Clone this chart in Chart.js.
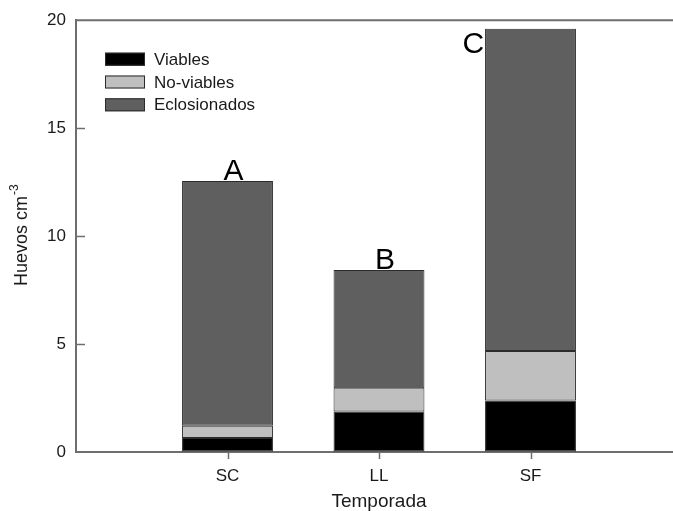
<!DOCTYPE html>
<html>
<head>
<meta charset="utf-8">
<script src="https://cdn.jsdelivr.net/npm/chart.js@4.4.1/dist/chart.umd.min.js"></script>
<style>
  html, body { margin: 0; padding: 0; background: #fff; overflow: hidden; }
  #wrap { width: 690px; height: 511px; }
</style>
</head>
<body>
<div id="wrap"><canvas id="eggChart" width="690" height="511"></canvas></div>
<script>
// data (segment heights, stacked)
const categories = ['SC', 'LL', 'SF'];
const viables = [0.65, 1.88, 2.38];
const noViables = [0.57, 1.07, 2.30];
const eclosionados = [11.33, 5.48, 14.92];
const letters = ['A', 'B', 'C'];
const yTicks = [0, 5, 10, 15, 20];

const seriesNames = ['Viables', 'No-viables', 'Eclosionados'];
const seriesColors = ['#000000', '#bfbfbf', '#5f5f5f'];

const textColor = '#1a1a1a';
const axisColor = '#6e6e6e';

// blank slots at both ends so the bars sit at 1, 2, 3 on a 0..4 axis
const labels = [''].concat(categories, ['']);
function pad(arr) { return [null].concat(arr, [null]); }

const seriesData = [viables, noViables, eclosionados];

const datasets = seriesData.map((vals, i) => ({
  label: seriesNames[i],
  data: pad(vals),
  backgroundColor: seriesColors[i],
  borderColor: '#2b2b2b',
  borderWidth: 1,
  borderSkipped: false,
  barPercentage: 0.6,
  categoryPercentage: 1.0
}));

// top frame line, inward ticks on y, outward ticks on x
const framePlugin = {
  id: 'frame',
  afterDraw(chart) {
    const ctx = chart.ctx;
    const area = chart.chartArea;
    const y = chart.scales.y;
    const x = chart.scales.x;
    ctx.save();
    ctx.strokeStyle = axisColor;
    ctx.lineWidth = 2;
    ctx.beginPath();
    ctx.moveTo(area.left - 1, area.top);
    ctx.lineTo(chart.width, area.top);
    ctx.stroke();
    ctx.lineWidth = 1.5;
    yTicks.forEach(v => {
      if (v === 0 || v === 20) return;
      const py = Math.round(y.getPixelForValue(v)) + 0.5;
      ctx.beginPath();
      ctx.moveTo(area.left, py);
      ctx.lineTo(area.left + 9, py);
      ctx.stroke();
    });
    categories.forEach((c, i) => {
      const px = Math.round(x.getPixelForValue(i + 1)) + 0.5;
      ctx.beginPath();
      ctx.moveTo(px, area.bottom + 1);
      ctx.lineTo(px, area.bottom + 7);
      ctx.stroke();
    });
    ctx.restore();
  }
};

// legend inside the plot, top-left
const legendPlugin = {
  id: 'innerLegend',
  afterDraw(chart) {
    const ctx = chart.ctx;
    const area = chart.chartArea;
    ctx.save();
    ctx.font = '17px "Liberation Sans", Arial, sans-serif';
    ctx.textBaseline = 'middle';
    ctx.textAlign = 'left';
    chart.data.datasets.forEach((ds, i) => {
      const cy = area.top + 39 + i * 22.8;
      const bx = area.left + 29;
      ctx.fillStyle = ds.backgroundColor;
      ctx.fillRect(bx, cy - 6.5, 40, 13);
      ctx.strokeStyle = '#2b2b2b';
      ctx.lineWidth = 1;
      ctx.strokeRect(bx + 0.5, cy - 6.5 + 0.5, 39, 12);
      ctx.fillStyle = textColor;
      ctx.fillText(ds.label, bx + 49, cy + 1);
    });
    ctx.restore();
  }
};

// significance letters above / beside each bar
const lettersPlugin = {
  id: 'letters',
  afterDraw(chart) {
    const ctx = chart.ctx;
    const area = chart.chartArea;
    const yScale = chart.scales.y;
    const topMeta = chart.getDatasetMeta(chart.data.datasets.length - 1);
    ctx.save();
    ctx.font = '30px "Liberation Sans", Arial, sans-serif';
    ctx.fillStyle = '#000';
    ctx.textBaseline = 'alphabetic';
    categories.forEach((c, i) => {
      const total = viables[i] + noViables[i] + eclosionados[i];
      const bar = topMeta.data[i + 1];
      const py = yScale.getPixelForValue(total);
      if (py - 30 < area.top) {
        ctx.textAlign = 'right';
        ctx.fillText(letters[i], bar.x - bar.width / 2 - 1, py + 24);
      } else {
        ctx.textAlign = 'center';
        ctx.fillText(letters[i], bar.x + 6, py - 1);
      }
    });
    ctx.restore();
  }
};

// rotated y title with superscript
const yTitlePlugin = {
  id: 'yTitle',
  afterDraw(chart) {
    const ctx = chart.ctx;
    const area = chart.chartArea;
    ctx.save();
    const mainFont = '18px "Liberation Sans", Arial, sans-serif';
    const supFont = '12px "Liberation Sans", Arial, sans-serif';
    ctx.font = mainFont;
    const w1 = ctx.measureText('Huevos cm').width;
    ctx.font = supFont;
    const w2 = ctx.measureText('-3').width;
    const total = w1 + 1 + w2;
    const cy = (area.top + area.bottom) / 2 - 1;
    ctx.translate(27, cy + total / 2);
    ctx.rotate(-Math.PI / 2);
    ctx.fillStyle = textColor;
    ctx.textAlign = 'left';
    ctx.textBaseline = 'alphabetic';
    ctx.font = mainFont;
    ctx.fillText('Huevos cm', 0, 0);
    ctx.font = supFont;
    ctx.fillText('-3', w1 + 1, -9);
    ctx.restore();
  }
};

new Chart(document.getElementById('eggChart'), {
  type: 'bar',
  data: { labels: labels, datasets: datasets },
  options: {
    responsive: false,
    animation: false,
    layout: { padding: { top: 20, right: 8, bottom: 0, left: 0 } },
    plugins: {
      legend: { display: false },
      tooltip: { enabled: false }
    },
    scales: {
      x: {
        stacked: true,
        offset: false,
        afterFit: scale => { scale.height = 59; },
        grid: {
          offset: false,
          drawOnChartArea: false,
          drawTicks: true,
          tickLength: 6,
          color: 'rgba(0,0,0,0)'
        },
        border: { color: axisColor, width: 2 },
        ticks: {
          color: textColor,
          font: { family: '"Liberation Sans", Arial, sans-serif', size: 17 },
          padding: 8,
          maxRotation: 0,
          autoSkip: false
        },
        title: {
          display: true,
          text: 'Temporada',
          color: textColor,
          font: { family: '"Liberation Sans", Arial, sans-serif', size: 19, lineHeight: 1 },
          padding: 0
        }
      },
      y: {
        stacked: true,
        min: 0,
        max: 20,
        afterFit: scale => { scale.width = 76; },
        afterBuildTicks: scale => { scale.ticks = yTicks.map(v => ({ value: v })); },
        grid: { display: true, drawOnChartArea: false, drawTicks: false },
        border: { color: axisColor, width: 2 },
        ticks: {
          color: textColor,
          font: { family: '"Liberation Sans", Arial, sans-serif', size: 17 },
          padding: 10
        }
      }
    }
  },
  plugins: [framePlugin, legendPlugin, lettersPlugin, yTitlePlugin]
});
</script>
</body>
</html>
